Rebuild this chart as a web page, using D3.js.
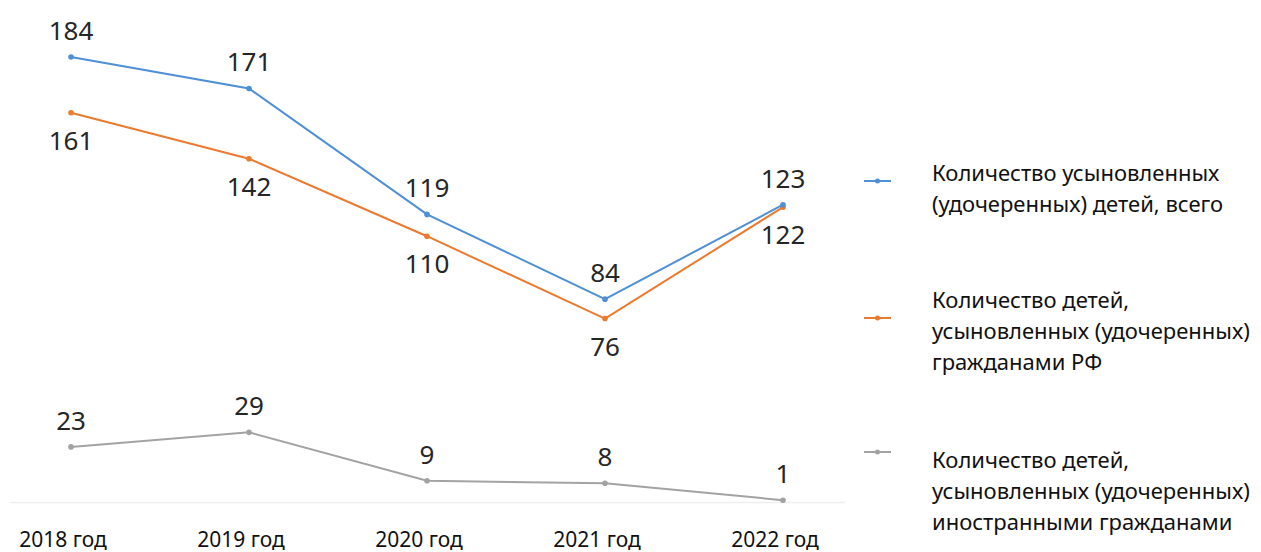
<!DOCTYPE html>
<html lang="ru">
<head>
<meta charset="UTF-8">
<title>Усыновление детей</title>
<script src="https://d3js.org/d3.v7.min.js"></script>
<style>
    body { margin: 0; background: #fff; font-family: 'Noto Sans', sans-serif; }
    .val { font-size: 26px; fill: #262626; text-anchor: middle; }
    .xlab { font-size: 21px; fill: #111; text-anchor: middle; }
    .leg { font-size: 22px; fill: #111; }
</style>
</head>
<body>
<div id="chart"></div>
<script>
// data
const years = ["2018 год", "2019 год", "2020 год", "2021 год", "2022 год"];
const totalAdopted = [184, 171, 119, 84, 123];
const adoptedByRF = [161, 142, 110, 76, 122];
const adoptedByForeign = [23, 29, 9, 8, 1];
const legendLabels = [
    ["Количество усыновленных", "(удочеренных) детей, всего"],
    ["Количество детей,", "усыновленных (удочеренных)", "гражданами РФ"],
    ["Количество детей,", "усыновленных (удочеренных)", "иностранными гражданами"]
];

const W = 1261, H = 552;
const svg = d3.select("#chart").append("svg")
    .attr("width", W).attr("height", H);

const x = d3.scalePoint().domain(years).range([71, 783]);
const y = d3.scaleLinear().domain([0, 184]).range([502.6, 57]);

// faint baseline
svg.append("line")
    .attr("x1", 10).attr("x2", 845)
    .attr("y1", y(0)).attr("y2", y(0))
    .attr("stroke", "#eee").attr("stroke-width", 1.5);

const series = [
    {values: totalAdopted, color: "#4f8fd6", labelPos: [-1, -1, -1, -1, -1]},
    {values: adoptedByRF, color: "#ec7a30", labelPos: [1, 1, 1, 1, 1]},
    {values: adoptedByForeign, color: "#a3a3a3", labelPos: [-1, -1, -1, -1, -1]}
];

const line = d3.line().x((d, i) => x(years[i])).y(d => y(d));

// grey first, then orange, then blue on top
[2, 1, 0].forEach(k => {
    const s = series[k];
    svg.append("path")
        .datum(s.values)
        .attr("fill", "none")
        .attr("stroke", s.color)
        .attr("stroke-width", 2)
        .attr("d", line);
    svg.selectAll(null)
        .data(s.values).enter()
        .append("circle")
        .attr("cx", (d, i) => x(years[i]))
        .attr("cy", d => y(d))
        .attr("r", 2.8)
        .attr("fill", s.color);
});

series.forEach(s => {
    svg.selectAll(null)
        .data(s.values).enter()
        .append("text")
        .attr("class", "val")
        .attr("x", (d, i) => x(years[i]))
        .attr("y", (d, i) => y(d) + (s.labelPos[i] < 0 ? -17 : 37))
        .text(d => d);
});

// x labels (sit a little left of the points)
svg.selectAll(".xlab")
    .data(years).enter()
    .append("text")
    .attr("class", "xlab")
    .attr("x", d => x(d) - 8)
    .attr("y", 547)
    .text(d => d);

// legend
const legY = [181, 318, 452];
const legBase = [181, 308, 468];
series.forEach((s, k) => {
    const g = svg.append("g");
    g.append("line")
        .attr("x1", 864).attr("x2", 891)
        .attr("y1", legY[k]).attr("y2", legY[k])
        .attr("stroke", s.color).attr("stroke-width", 2);
    g.append("circle")
        .attr("cx", 877.5).attr("cy", legY[k]).attr("r", 2.5)
        .attr("fill", s.color);
    legendLabels[k].forEach((t, j) => {
        g.append("text")
            .attr("class", "leg")
            .attr("x", 932)
            .attr("y", legBase[k] + j * 31)
            .text(t);
    });
});
</script>
</body>
</html>
